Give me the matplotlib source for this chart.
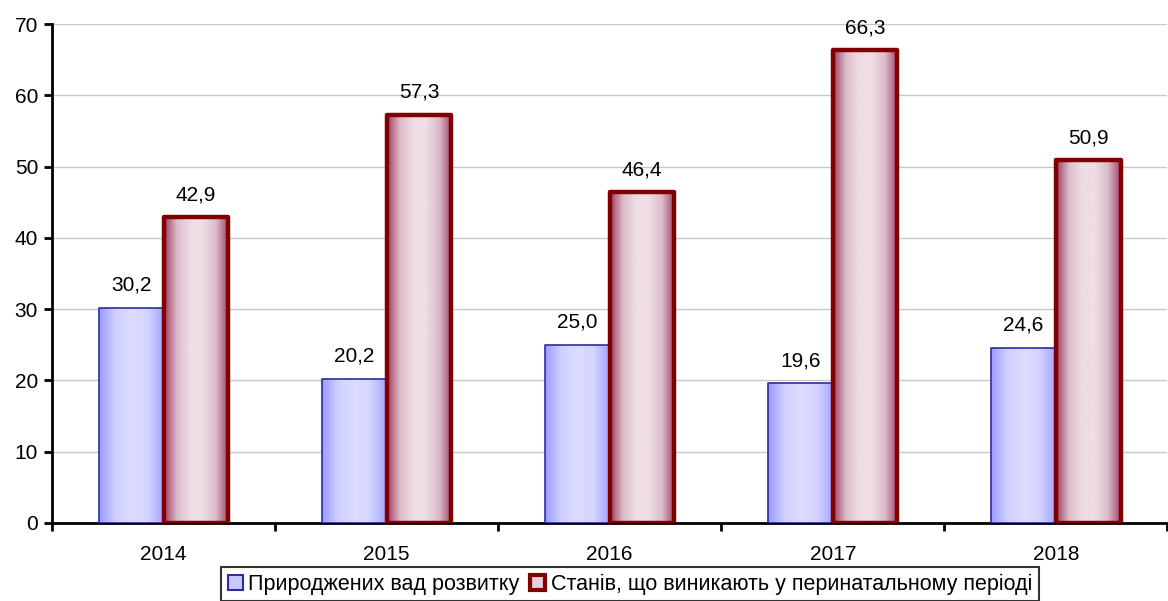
import numpy as np
import matplotlib
matplotlib.use("Agg")
import matplotlib.pyplot as plt
from matplotlib.colors import LinearSegmentedColormap
from matplotlib.patches import Patch

plt.rcParams['font.family'] = ['Liberation Sans', 'DejaVu Sans']

years = ['2014', '2015', '2016', '2017', '2018']
congenital = [30.2, 20.2, 25.0, 19.6, 24.6]
perinatal = [42.9, 57.3, 46.4, 66.3, 50.9]
series_names = ['Природжених вад розвитку', 'Станів, що виникають у перинатальному періоді']

FS = 15

fig = plt.figure(figsize=(11.68, 6.01), dpi=100)
ax = fig.add_axes([52/1168, 1-523/601, 1-52/1168 - 0.0005, (523-24)/601])

w = 0.29
x = np.arange(len(years))

blue_cmap = LinearSegmentedColormap.from_list('b', ['#9a9aff', '#d0d0ff', '#dcdcff', '#d4d4ff', '#a4a4ff'])
red_cmap = LinearSegmentedColormap.from_list('r', ['#9c3c62', '#dcbccb', '#eedde4', '#eedde4', '#dcbccb', '#a04468'])
grad = np.linspace(0, 1, 256).reshape(1, -1)

def gbar(xc, h, cmap, ec, lw):
    bars = ax.bar([xc], [h], width=w, facecolor='none', edgecolor=ec, linewidth=lw, zorder=4)
    r = bars.patches[0]
    r.set_joinstyle('round')
    im = ax.imshow(grad, cmap=cmap, aspect='auto', extent=[xc - w/2, xc + w/2, 0, h], zorder=3)
    im.set_clip_path(r)
    return r

for i in range(len(years)):
    gbar(x[i] - w/2, congenital[i], blue_cmap, '#2e2e99', 1.2)
    gbar(x[i] + w/2, perinatal[i], red_cmap, '#800000', 3.2)
    ax.text(x[i] - w/2, congenital[i] + 2.4, f"{congenital[i]:.1f}".replace('.', ','),
            ha='center', va='baseline', fontsize=FS, zorder=5)
    ax.text(x[i] + w/2, perinatal[i] + 2.4, f"{perinatal[i]:.1f}".replace('.', ','),
            ha='center', va='baseline', fontsize=FS, zorder=5)

ax.set_xlim(-0.5, len(years) - 0.5)
ax.set_ylim(0, 70)
ax.set_yticks(range(0, 71, 10))
ax.set_xticks(np.arange(-0.5, len(years), 1.0))
ax.set_xticklabels([])
ax.set_xticks(x, minor=True)
ax.set_xticklabels(years, minor=True)
ax.tick_params(axis='x', which='minor', length=0, pad=16, labelsize=FS)
ax.tick_params(axis='x', which='major', length=6, width=2, direction='out')
ax.tick_params(axis='y', length=6, width=2, direction='out', labelsize=FS, pad=4)
ax.grid(axis='y', color='#c8c8c8', linewidth=1, zorder=0)
ax.set_axisbelow(True)
for s in ['top', 'right']:
    ax.spines[s].set_visible(False)
ax.spines['left'].set_linewidth(2)
ax.spines['bottom'].set_linewidth(2)

handles = [Patch(facecolor='#c8c8ff', edgecolor='#2e2e99', linewidth=1.5),
           Patch(facecolor='#e8d0da', edgecolor='#800000', linewidth=3)]
leg = fig.legend(handles, series_names, loc='upper center', bbox_to_anchor=(630/1168, 1-567/601),
                 ncol=2, frameon=True, fancybox=False, fontsize=15.5, handlelength=0.7, handleheight=0.7,
                 handletextpad=0.25, columnspacing=0.5, borderpad=0.3, borderaxespad=0)
leg.get_frame().set_edgecolor('black')
leg.get_frame().set_linewidth(1.5)

fig.savefig('out.png', dpi=100)
